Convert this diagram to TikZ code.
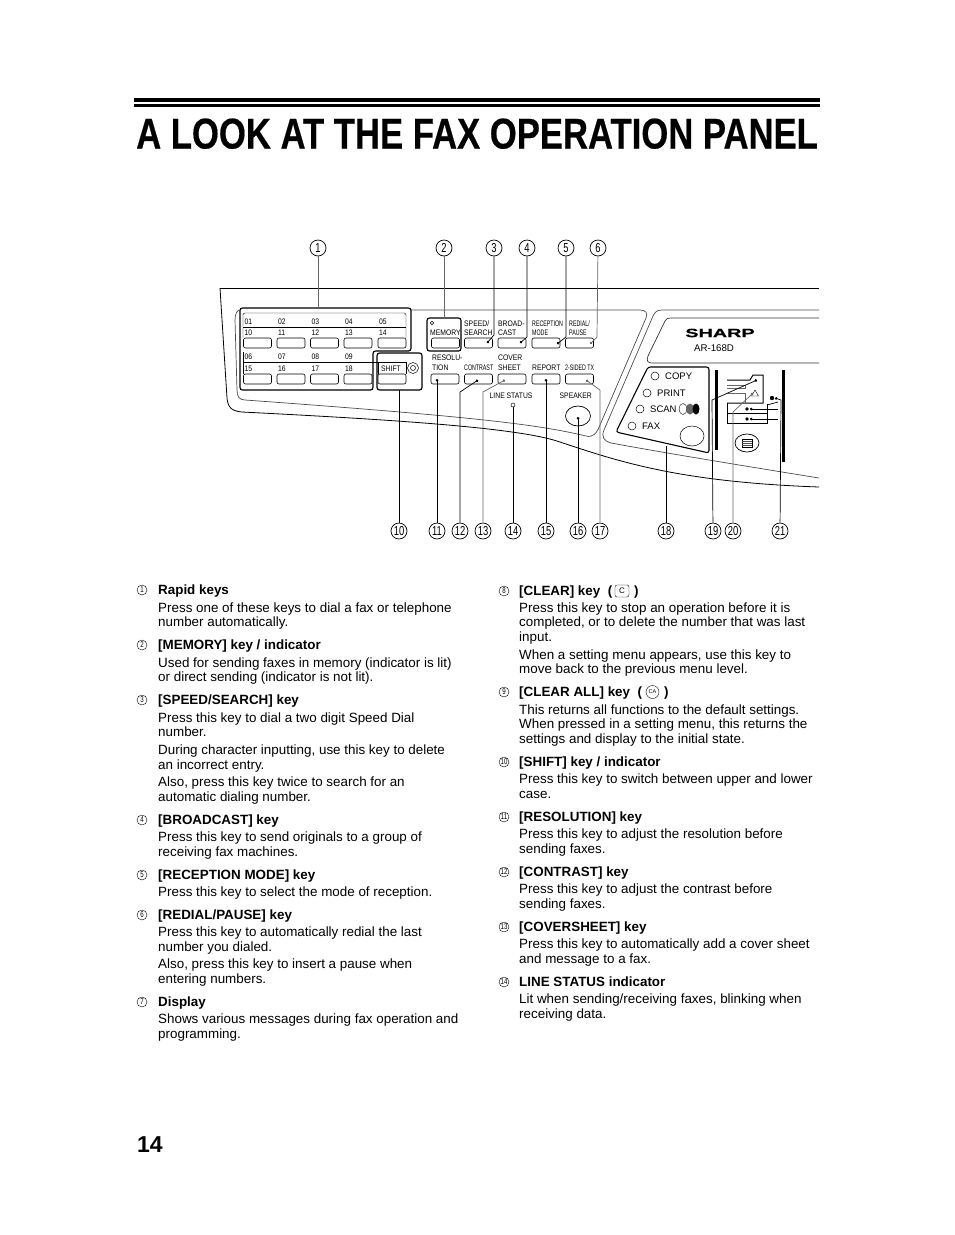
\documentclass[tikz,border=0pt]{standalone}
\usepackage{fontspec}
\setmainfont{Liberation Sans}
\newfontfamily\narrowfont[FakeStretch=0.66]{Liberation Sans}
\newfontfamily\panelfont[FakeStretch=0.85]{Liberation Sans}
\newfontfamily\calloutfont[FakeStretch=0.72]{Liberation Sans}
\newfontfamily\titlefont[FakeStretch=0.806,BoldFeatures={FakeBold=0.4}]{Liberation Sans}
\newfontfamily\logofont[FakeStretch=1.65,BoldFeatures={FakeBold=0.6}]{Liberation Sans}
\usetikzlibrary{arrows.meta,shapes.geometric}

\begin{document}
\begin{tikzpicture}
  [x=1pt,y=-1pt,
    callout/.style={
      draw=black, line width=.7pt, circle,
      inner sep=0, minimum size=16pt, fill=white,
      font=\calloutfont\fontsize{13}{13}\selectfont
    },
    listnum/.style={
      draw=black, line width=.4pt, circle,
      inner sep=0, minimum size=10pt,
      font=\calloutfont\fontsize{8.5}{8.5}\selectfont
    },
    headline/.style={
      anchor=base west, inner sep=0,
      font=\bfseries\fontsize{13.4}{14}\selectfont
    },
    bodyline/.style={
      anchor=base west, inner sep=0,
      font=\fontsize{13.4}{14}\selectfont
    },
    keybtn/.style={
      draw=black, line width=.6pt, rounded corners=2pt, fill=white,
      minimum width=28pt, minimum height=10pt, inner sep=0
    },
    keylabel/.style={
      anchor=base west, inner sep=0,
      font=\panelfont\fontsize{8}{8}\selectfont
    },
    narrowlabel/.style={
      anchor=base west, inner sep=0,
      font=\narrowfont\fontsize{8}{8}\selectfont
    },
    modelabel/.style={
      anchor=base west, inner sep=0,
      font=\fontsize{9.5}{10}\selectfont
    },
    lamp/.style={
      draw=black, line width=.5pt, circle, inner sep=0, minimum size=8pt
    },
    lead/.style={
      line width=.7pt
    },
    tipped/.style={
      line width=.7pt, -{Circle[length=2.6pt]}
    },
    frame/.style={
      line width=1.1pt, rounded corners=2.5pt
    }
  ]
  \useasboundingbox (0,0) rectangle (954,1235);

  % page head
  \fill (134,98) rectangle (820,102);
  \fill (134,103.5) rectangle (820,107);
  \node[anchor=base west, inner sep=0, font=\titlefont\bfseries\fontsize{43}{43}\selectfont]
    (title) at (136,148.5) {A LOOK AT THE FAX OPERATION PANEL};
  \node[anchor=base west, inner sep=0, font=\bfseries\fontsize{23}{25}\selectfont]
    (page) at (137,1152) {14};

  % machine outline
  \draw[line width=.8pt] (220,288) -- (819,288);
  \draw[line width=.8pt] (220,288) -- (227,398)
    .. controls (228,408) and (232,411) .. (242,412)
    .. controls (400,420) and (520,428) .. (560,442)
    .. controls (620,462) and (680,482) .. (819,487);
  \draw[line width=.7pt, black!70] (240,310) -- (640,310)
    .. controls (646,310) and (648,313) .. (646,318) -- (600,425)
    .. controls (597,433) and (593,438) .. (586,436)
    .. controls (540,425) and (480,417) .. (245,400)
    .. controls (239,400) and (237,396) .. (237,390) -- (235,320)
    .. controls (235,314) and (237,310) .. (240,310);
  \draw[line width=.7pt, black!70] (819,310) -- (662,310)
    .. controls (657,310) and (655,312) .. (653,316) -- (604,430)
    .. controls (601,437) and (604,441) .. (611,443)
    .. controls (660,452) and (720,462) .. (819,478);
  \draw[line width=.7pt, black!80] (819,318) -- (672,318)
    .. controls (667,318) and (666,319) .. (665,321) -- (648,356)
    .. controls (646,361) and (648,363) .. (652,363) -- (819,363);

  % frames round the keys
  \draw[frame, fill=white] (240,308) -- (411,308) -- (411,351) -- (373,351)
    -- (373,390) -- (240,390) -- cycle;
  \draw[frame, fill=white] (377,353) rectangle (422,390);
  \draw[frame, fill=white] (427,318) rectangle (461,351);
  \draw[line width=.4pt, rounded corners=2pt] (243,338) -- (243,313) -- (406,313) -- (406,338);
  \draw[line width=.4pt] (243,327) -- (406,327);
  \draw[line width=.4pt] (243,374) -- (243,352);
  \draw[line width=.4pt] (243,362) -- (406,362) -- (406,374);
  \draw[line width=.4pt] (378,362) -- (378,374);

  % rapid keys
  \foreach \n/\x/\up/\lo in {a/243.5/01/10,b/277/02/11,c/310.5/03/12,d/344/04/13,e/378/05/14} {
    \node[keylabel] (up\n) at (\x+1,324) {\up};
    \node[keylabel] (lo\n) at (\x+1,335) {\lo};
    \node[keybtn] (top\n) at (\x+14,343) {};
  }
  \foreach \n/\x/\up/\lo in {a/243.5/06/15,b/277/07/16,c/310.5/08/17,d/344/09/18} {
    \node[keylabel] (upp\n) at (\x+1,359) {\up};
    \node[keylabel] (low\n) at (\x+1,371) {\lo};
    \node[keybtn] (bot\n) at (\x+14,379) {};
  }
  \node[keybtn] (shift) at (392,379) {};
  \node[keylabel] (shiftlabel) at (381,371) {SHIFT};
  \node[lamp, minimum size=11pt] (shiftlamp) at (413,368) {};
  \node[lamp, minimum size=5pt] (shiftdot) at (413,368) {};

  % function keys
  \foreach \n/\x in {memory/445.5,speed/478.5,broadcast/512,reception/546,redial/579.5}
    \node[keybtn] (\n) at (\x,343) {};
  \foreach \n/\x in {resolution/445,contrast/478.5,cover/512,report/546,sided/579.5}
    \node[keybtn] (\n) at (\x,379) {};
  \node[lamp, minimum size=3.5pt] (memlamp) at (432,323) {};
  \node[keylabel] (memlabel) at (430,335) {MEMORY};
  \node[keylabel] (speedlabel) at (464,326) {SPEED/};
  \node[keylabel] (searchlabel) at (464,335) {SEARCH};
  \node[keylabel] (broadlabel) at (498,326) {BROAD-};
  \node[keylabel] (castlabel) at (498,335) {CAST};
  \node[narrowlabel] (recplabel) at (532,326) {RECEPTION};
  \node[narrowlabel] (modelabel) at (532,335) {MODE};
  \node[narrowlabel] (redlabel) at (569,326) {REDIAL/};
  \node[narrowlabel] (pauselabel) at (569,335) {PAUSE};
  \node[keylabel] (reslabel) at (432,360) {RESOLU-};
  \node[keylabel] (tionlabel) at (432,370) {TION};
  \node[narrowlabel] (contlabel) at (464,370) {CONTRAST};
  \node[keylabel] (coverlabel) at (498,360) {COVER};
  \node[keylabel] (sheetlabel) at (498,370) {SHEET};
  \node[keylabel] (replabel) at (532,370) {REPORT};
  \node[narrowlabel] (sidedlabel) at (565,370) {2-SIDED TX};
  \node[keylabel] (linelabel) at (489.5,398) {LINE STATUS};
  \node[lamp, minimum size=4pt] (linelamp) at (513,405) {};
  \node[keylabel] (speaklabel) at (559.5,398) {SPEAKER};
  \draw[line width=.7pt] (578,416) ellipse (12.5 and 10);
  \coordinate (speaker) at (578,417);

  % brand and mode panel
  \node[font=\logofont\bfseries\fontsize{12}{12}\selectfont, inner sep=0] (sharp) at (720,333) {SHARP};
  \node[font=\fontsize{9.7}{10}\selectfont, inner sep=0] (model) at (714,348) {AR-168D};
  \draw[frame] (648,367) -- (709,367) -- (709,453) -- (616,432) -- cycle;
  \foreach \n/\x/\y/\t in {copy/655/376/COPY,print/647/393/PRINT,scan/640/409/SCAN,fax/632/426/FAX} {
    \node[lamp] (\n) at (\x,\y) {};
    \node[modelabel] (\n label) at (\x+10,\y+3.5) {\t};
  }
  \draw[line width=.5pt] (692,436) ellipse (12 and 10);
  \draw[line width=.4pt] (683,409) ellipse (4 and 5.5);
  \fill[black!60] (690,409) ellipse (4 and 5.5);
  \fill (696,409) ellipse (3.5 and 5.5);

  % machine state icon
  \fill (715,370) rectangle (717.5,450);
  \fill (782,370) rectangle (784.5,462);
  \draw[line width=1pt] (727,380) -- (750,380) -- (753,375) -- (763,375) -- (763,403) -- (727,403);
  \draw[line width=.5pt, black!60] (727,385) -- (745,385) -- (745,388) -- (727,388);
  \draw[line width=.5pt, black!60] (727,393) -- (745,393) -- (745,403);
  \draw[line width=1pt] (727,403) -- (727,423) -- (767,423) -- (767,404);
  \draw[line width=1pt] (727,413) -- (767,413);
  \node[draw=black, line width=.4pt, regular polygon, regular polygon sides=3, inner sep=0, minimum size=8pt] (warning) at (755,394) {};
  \fill (772,398) circle (2.2);
  \fill (747,409) circle (1.8);
  \fill (747,419) circle (1.8);
  \draw[line width=.7pt] (747,443) ellipse (12 and 9);
  \draw[line width=.4pt] (742,439.5) rectangle (752,447);
  \foreach \y in {441.5,443.2,445}
    \draw[line width=.6pt, black!70] (742,\y) -- (752,\y);

  % callouts
  \foreach \n/\x in {1/318,2/444,3/494,4/527,5/566,6/598}
    \node[callout] (c\n) at (\x,248) {\n};
  \foreach \n/\x in {10/399,11/437,12/460,13/483,14/513,15/546,16/578,17/600,18/666,19/713,20/733,21/780}
    \node[callout] (c\n) at (\x,531) {\n};

  % leads with a plain end
  \foreach \n/\x/\y/\col in {1/318/308/black!60,2/444/318/black!60,10/399/390/black,14/513/407/black,18/666/446/black}
  {
    \coordinate (t\n) at (\x,\y);
    \draw[lead, draw=\col] (c\n) -- (t\n);
  }
  % leads ending on a dot
  \foreach \n/\x/\y in {11/437/379,15/546/379}
  {
    \coordinate (t\n) at (\x,\y);
    \draw[tipped] (c\n) -- (t\n);
  }
  \draw[tipped] (c16) -- (speaker);
  % bent leads
  \foreach \n/\bx/\by/\x/\y/\col in {3/494/335/487/343/black,4/527/337/520/343/black,5/566/337/557/344/black,
    6/597/337/590/344/black!60,12/460/392/478/380/black,13/483/392/505/380/black!60,
    17/600/390/586/380/black!60,19/712/400/757/380/black,20/733/412/753/393/black!60,21/781/400/775/398/black}
  {
    \coordinate (b\n) at (\bx,\by);
    \coordinate (t\n) at (\x,\y);
    \draw[tipped, draw=\col] (c\n) -- (b\n) -- (t\n);
  }
  \coordinate (branch) at (778,402);
  \coordinate (branchend) at (767,405);
  \draw[lead] (branch) -- (branchend);
  \foreach \y in {409,419} {
    \coordinate (from\y) at (778,\y);
    \coordinate (to\y) at (750,\y);
    \draw[tipped] (from\y) -- (to\y);
  }

  % left column
  \foreach \n/\y/\t in {1/589/Rapid keys,2/644/{[MEMORY] key / indicator},3/699/{[SPEED/SEARCH] key},
    4/819/[BROADCAST] key,5/874/[RECEPTION MODE] key,6/914/{[REDIAL/PAUSE] key},7/1001/Display}
  {
    \node[listnum] (n\n) at (142,\y+1) {\n};
    \node[headline] (h\n) at (158,\y+5) {\t};
  }
  \foreach \y/\t in {607/Press one of these keys to dial a fax or telephone,
    621/number automatically.,
    662/{Used for sending faxes in memory (indicator is lit)},
    676/{or direct sending (indicator is not lit).},
    717/Press this key to dial a two digit Speed Dial,
    731/number.,
    749/{During character inputting, use this key to delete},
    764/an incorrect entry.,
    781/{Also, press this key twice to search for an},
    796/automatic dialing number.,
    836/Press this key to send originals to a group of,
    851/receiving fax machines.,
    891/Press this key to select the mode of reception.,
    931/Press this key to automatically redial the last,
    946/number you dialed.,
    963/{Also, press this key to insert a pause when},
    978/entering numbers.,
    1018/Shows various messages during fax operation and,
    1033/programming.}
    \node[bodyline] (left\y) at (158,\y+5) {\t};

  % right column
  \foreach \n/\y/\t in {8/590/{[CLEAR] key\ \ (},9/691/{[CLEAR ALL] key\ \ (},10/761/{[SHIFT] key / indicator},
    11/816/[RESOLUTION] key,12/871/[CONTRAST] key,13/926/[COVERSHEET] key,14/981/LINE STATUS indicator}
  {
    \node[listnum] (n\n) at (504,\y+1) {\n};
    \node[headline] (h\n) at (519,\y+5) {\t};
  }
  \node[draw=black, line width=.4pt, rounded corners=2pt, minimum width=14pt, minimum height=12pt,
    inner sep=0, font=\fontsize{8}{8}\selectfont] (clearkey) at (622,591) {C};
  \node[headline] (closec) at (634,595) {)};
  \node[draw=black, line width=.4pt, circle, minimum size=13pt,
    inner sep=0, font=\fontsize{5.5}{6}\selectfont] (clearall) at (652.5,692) {CA};
  \node[headline] (closeca) at (664,696) {)};
  \foreach \y/\t in {607/Press this key to stop an operation before it is,
    621/{completed, or to delete the number that was last},
    636/input.,
    654/{When a setting menu appears, use this key to},
    668/move back to the previous menu level.,
    709/This returns all functions to the default settings.,
    723/{When pressed in a setting menu, this returns the},
    738/settings and display to the initial state.,
    778/Press this key to switch between upper and lower,
    793/case.,
    833/Press this key to adjust the resolution before,
    848/sending faxes.,
    888/Press this key to adjust the contrast before,
    903/sending faxes.,
    943/Press this key to automatically add a cover sheet,
    958/and message to a fax.,
    998/{Lit when sending/receiving faxes, blinking when},
    1013/receiving data.}
    \node[bodyline] (right\y) at (519,\y+5) {\t};
\end{tikzpicture}
\end{document}
